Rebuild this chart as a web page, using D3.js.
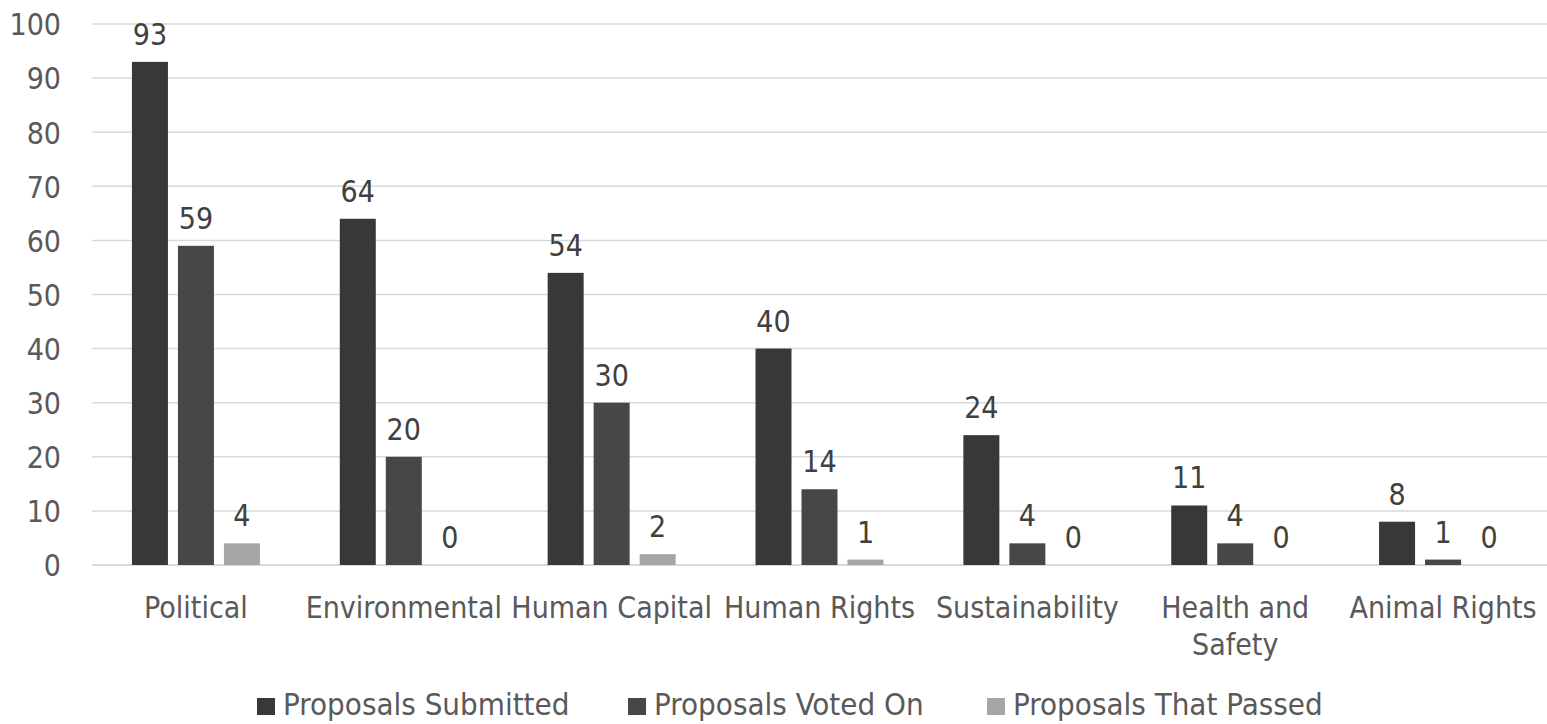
<!DOCTYPE html>
<html>
<head>
<meta charset="utf-8">
<script src="https://cdn.jsdelivr.net/npm/d3@7"></script>
<style>
  html, body { margin: 0; padding: 0; background: #ffffff; }
  svg { display: block; }
  svg text { font-family: "DejaVu Sans Condensed", "DejaVu Sans", sans-serif; font-stretch: condensed; }
</style>
</head>
<body>
<svg id="chart" width="1547" height="724"></svg>
<script>
// Shareholder proposal counts by topic
const categories = ["Political", "Environmental", "Human Capital", "Human Rights", "Sustainability", "Health and Safety", "Animal Rights"];
const seriesNames = ["Proposals Submitted", "Proposals Voted On", "Proposals That Passed"];
const submitted = [93, 64, 54, 40, 24, 11, 8];
const votedOn = [59, 20, 30, 14, 4, 4, 1];
const passed = [4, 0, 2, 1, 0, 0, 0];
const yTicks = [0, 10, 20, 30, 40, 50, 60, 70, 80, 90, 100];
const colors = ["#383838", "#474747", "#a5a5a5"];

const seriesValues = [submitted, votedOn, passed];

const svg = d3.select("#chart");
const plotLeft = 92, plotRight = 1547;

const x0 = d3.scaleBand().domain(categories).range([plotLeft, plotRight]).padding(0);
const groupW = 128;
const x1 = d3.scaleBand().domain(seriesNames)
  .range([x0.bandwidth() / 2 - groupW / 2, x0.bandwidth() / 2 + groupW / 2])
  .paddingInner(10 / 46).paddingOuter(0);
const y = d3.scaleLinear().domain([0, 100]).range([565, 24]);

const labelSize = 30;

// Horizontal gridlines
svg.append("g").selectAll("line").data(yTicks).join("line")
  .attr("x1", plotLeft).attr("x2", plotRight)
  .attr("y1", d => y(d)).attr("y2", d => y(d))
  .attr("stroke", "#d9d9d9").attr("stroke-width", d => d === 0 ? 2 : 1.5);

// Y axis labels
const yAxis = d3.axisLeft(y).tickValues(yTicks).tickSize(0).tickPadding(0);
const yg = svg.append("g").attr("transform", "translate(61,0)").call(yAxis);
yg.select(".domain").remove();
yg.attr("font-family", null).attr("font-size", null);
yg.selectAll("text").attr("font-size", labelSize).attr("fill", "#595959").attr("dy", "0.36em");

// Bars with value labels
const groups = svg.append("g").selectAll("g").data(categories).join("g")
  .attr("transform", c => `translate(${x0(c)},0)`);

seriesNames.forEach((s, si) => {
  groups.append("rect")
    .attr("x", x1(s))
    .attr("width", x1.bandwidth())
    .attr("y", (c, ci) => y(seriesValues[si][ci]))
    .attr("height", (c, ci) => y(0) - y(seriesValues[si][ci]))
    .attr("fill", colors[si]);
  groups.append("text")
    .attr("x", x1(s) + x1.bandwidth() / 2)
    .attr("y", (c, ci) => y(seriesValues[si][ci]) - 17)
    .attr("text-anchor", "middle")
    .attr("font-size", labelSize)
    .attr("fill", "#404040")
    .text((c, ci) => seriesValues[si][ci]);
});

// Category labels (wrap "Health and Safety" onto two lines)
const xAxis = d3.axisBottom(x0).tickSize(0).tickPadding(0);
const xg = svg.append("g").attr("transform", "translate(0,565)").call(xAxis);
xg.select(".domain").remove();
xg.attr("font-family", null).attr("font-size", null);
xg.selectAll("text").remove();
xg.selectAll(".tick").each(function(c) {
  const lines = c === "Health and Safety" ? ["Health and", "Safety"] : [c];
  const t = d3.select(this).append("text")
    .attr("text-anchor", "middle").attr("font-size", labelSize).attr("fill", "#595959");
  lines.forEach((l, i) => t.append("tspan").attr("x", 0).attr("y", 53 + i * 37).text(l));
});

// Legend
const legendX = [257, 628, 987];
const legend = svg.append("g");
seriesNames.forEach((s, i) => {
  legend.append("rect").attr("x", legendX[i]).attr("y", 698).attr("width", 18).attr("height", 17)
    .attr("fill", colors[i]);
  legend.append("text").attr("x", legendX[i] + 26).attr("y", 715)
    .attr("font-size", 31).attr("fill", "#595959").text(s);
});
</script>
</body>
</html>
